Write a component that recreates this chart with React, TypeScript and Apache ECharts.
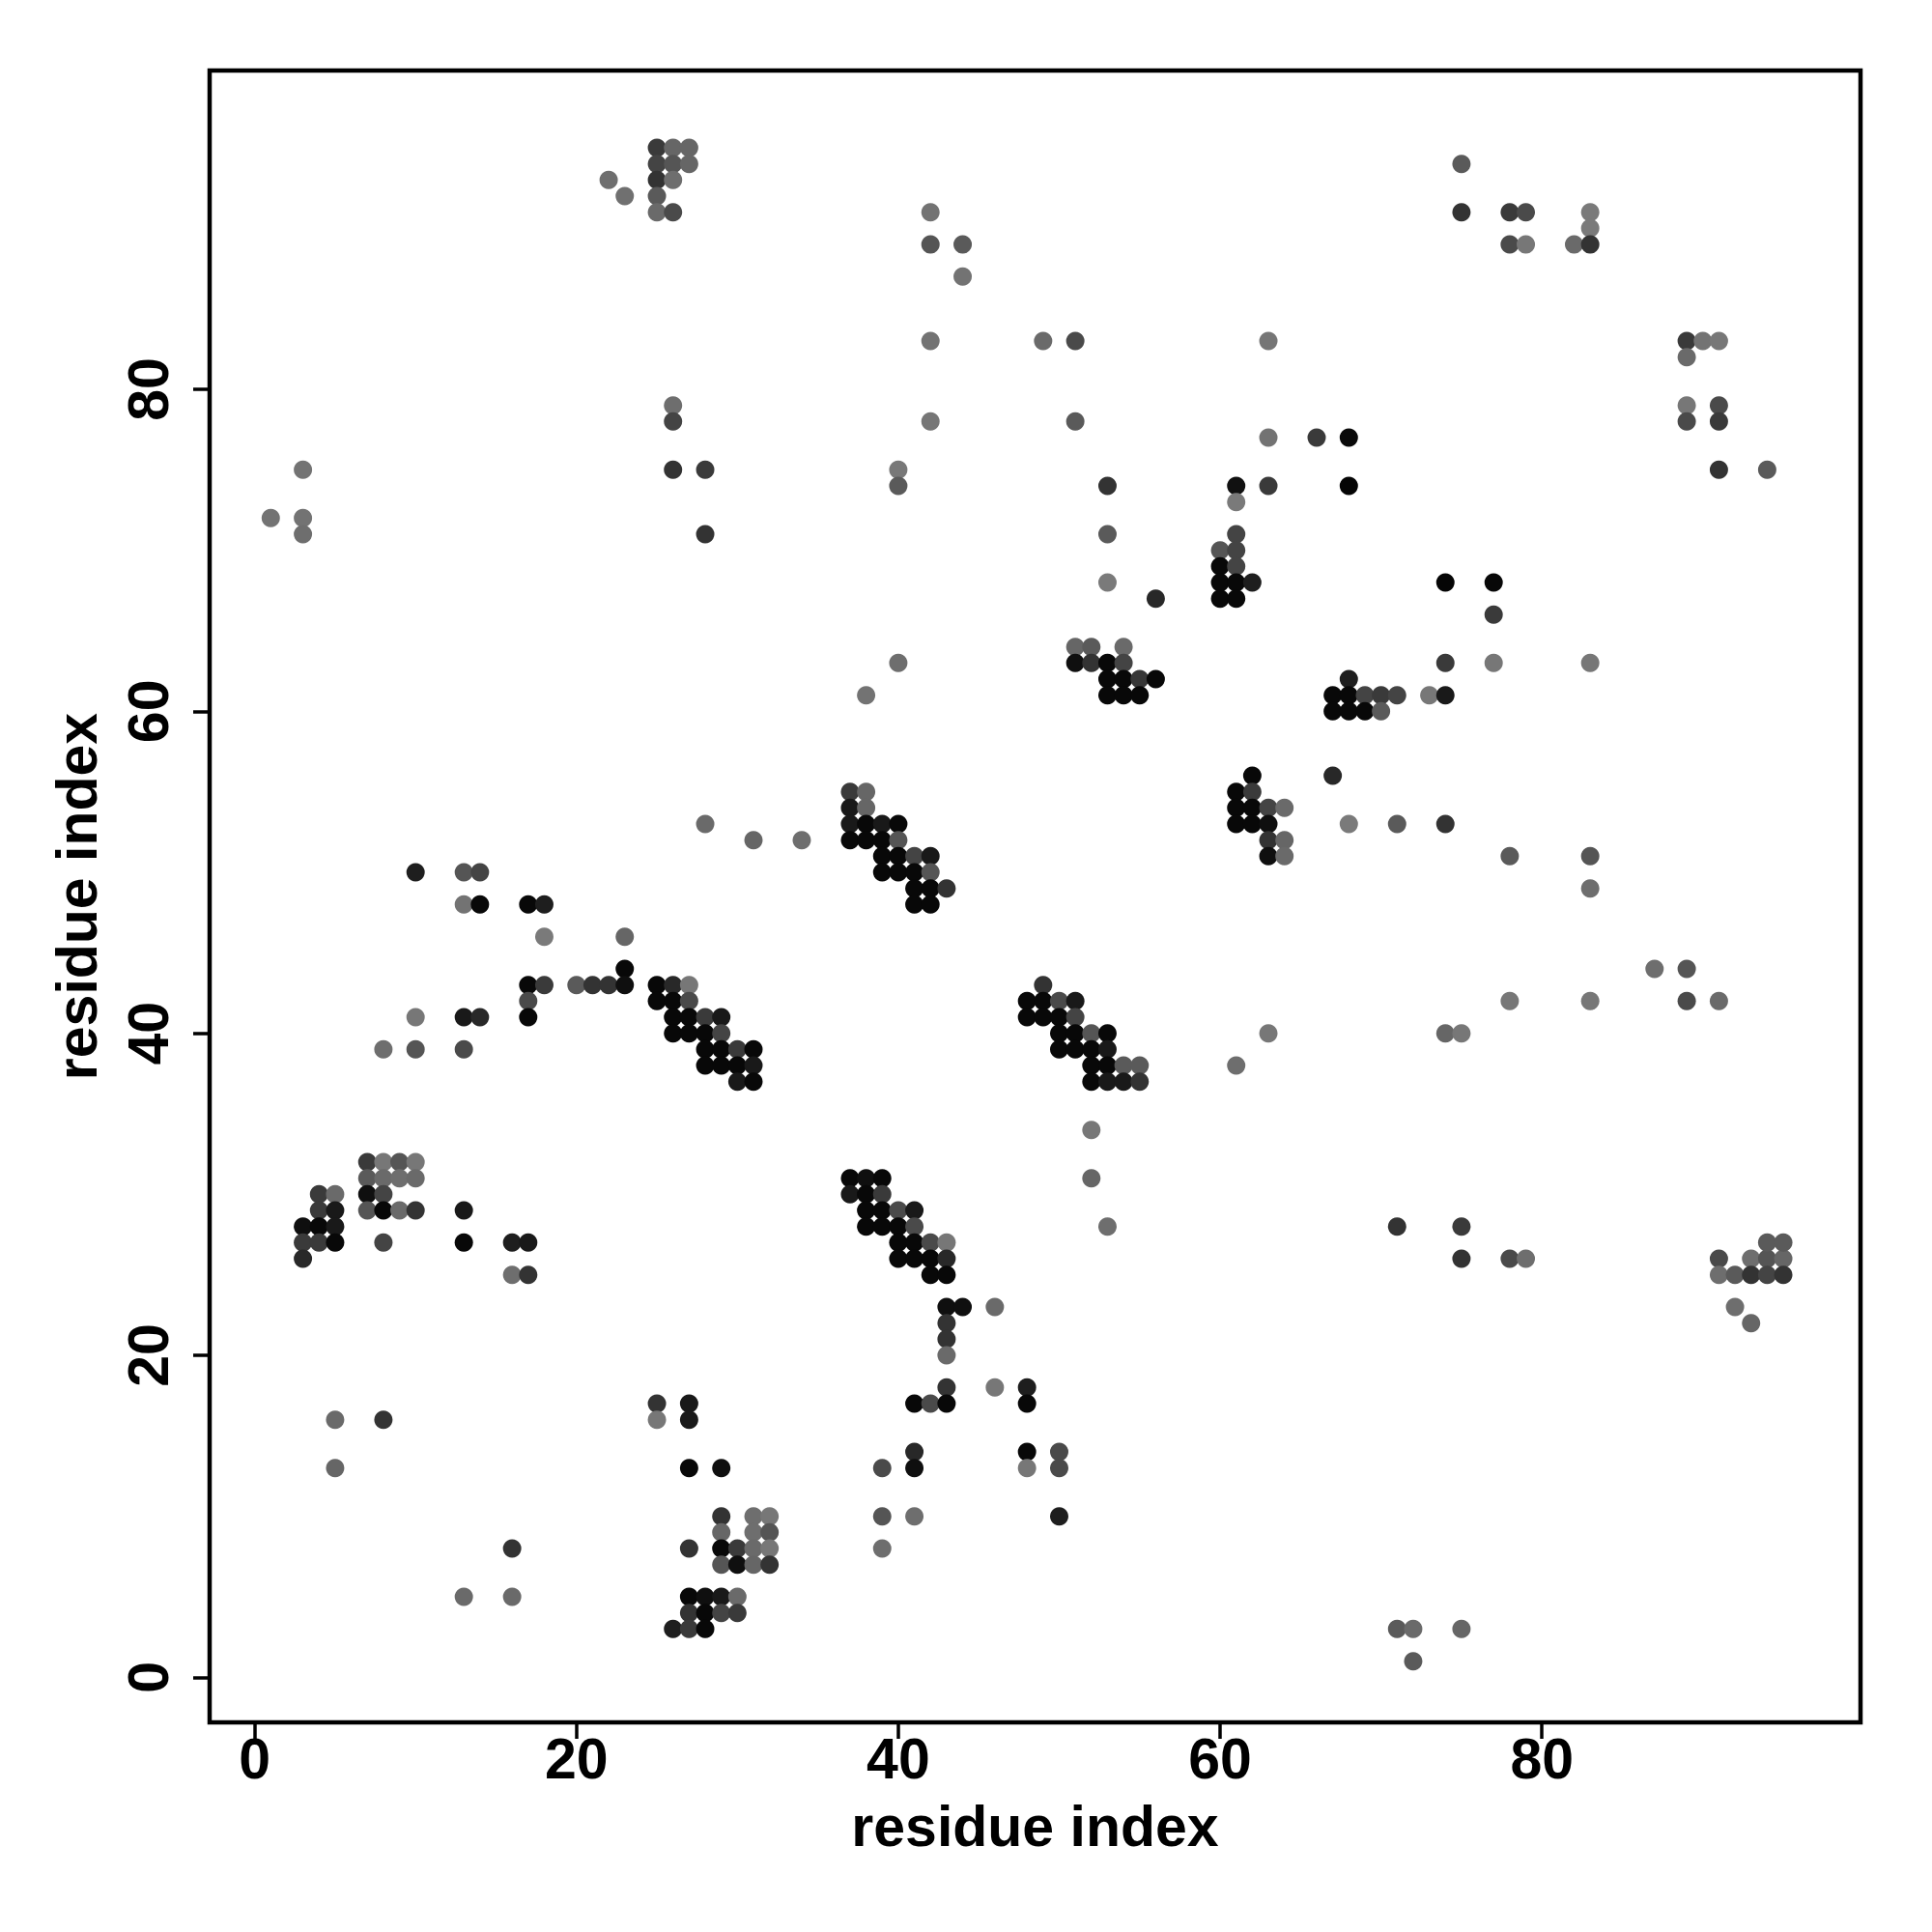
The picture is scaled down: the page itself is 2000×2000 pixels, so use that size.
import React, { useEffect, useRef } from "react";
import * as echarts from "echarts";

// [residue i, residue j, grey level 0-255]
const clusterTopLeft = [
  [25,95,58],[26,95,102],[27,95,102],[25,94,68],[26,94,85],[27,94,102],
  [22,93,110],[25,93,51],[26,93,110],[23,92,112],[25,92,90],[25,91,106],[26,91,74],
  [26,79,110],[26,78,68],[3,75,115],[26,75,51],[28,75,58],
  [1,72,115],[3,72,115],[3,71,110],[28,71,51],
];
const clusterTopMid = [
  [42,91,115],[42,89,85],[44,89,90],[44,87,115],[42,83,115],[49,83,106],[51,83,74],[63,83,118],
  [42,78,118],[51,78,90],[63,77,115],[66,77,58],[68,77,10],
  [40,75,120],[40,74,90],[53,74,51],[61,74,17],[63,74,58],[68,74,5],
];
const clusterTopRight = [
  [75,94,90],[75,91,51],[78,91,58],[79,91,74],[83,91,122],[83,90,122],[78,89,74],[79,89,119],[82,89,106],[83,89,51],
  [89,83,58],[90,83,115],[91,83,119],[89,82,106],[89,79,119],[91,79,74],[89,78,74],[91,78,58],[91,75,51],[94,75,90],
];
const clusterUpperLeft = [
  [28,53,106],[31,52,102],[34,52,110],[10,50,30],[13,50,85],[14,50,68],[13,48,115],[14,48,8],[17,48,8],[18,48,30],
  [18,46,122],[23,46,102],[23,44,8],[17,43,8],[18,43,58],[20,43,90],[21,43,51],[22,43,51],[23,43,15],[17,42,74],[17,41,8],
  [10,41,119],[13,41,25],[14,41,40],[8,39,110],[10,39,85],[13,39,74],
];
const clusterUpperMid = [
  [61,73,122],[53,71,90],[61,71,68],[60,70,85],[61,70,68],[60,69,8],[61,69,68],[60,68,8],[61,68,8],[62,68,30],
  [60,67,8],[61,67,8],[53,68,122],[56,67,40],
  [51,64,102],[52,64,90],[54,64,106],[51,63,15],[52,63,51],[53,63,8],[54,63,68],[53,62,8],[54,62,8],[55,62,55],[56,62,8],
  [53,61,8],[54,61,8],[55,61,8],[40,63,110],[38,61,115],
  [37,55,58],[38,55,102],[37,54,25],[38,54,102],[37,53,25],[38,53,8],[39,53,25],[40,53,8],[37,52,8],[38,52,8],[39,52,8],[40,52,85],
  [39,51,8],[40,51,8],[41,51,68],[42,51,25],[39,50,8],[40,50,8],[41,50,8],[42,50,85],[41,49,8],[42,49,8],[43,49,51],[41,48,8],[42,48,8],
  [62,56,8],[61,55,8],[62,55,58],[61,54,8],[62,54,8],[63,54,68],[64,54,106],[61,53,8],[62,53,8],[63,53,15],[63,52,51],[64,52,102],[63,51,15],[64,51,106],
];
const clusterUpperRight = [
  [74,68,5],[77,68,8],[77,66,58],[74,63,58],[77,63,119],[83,63,119],[68,62,30],[67,61,8],[68,61,8],[69,61,68],[70,61,58],[71,61,68],
  [73,61,119],[74,61,25],[67,60,8],[68,60,8],[69,60,8],[70,60,90],[67,56,40],[68,53,122],[71,53,90],[74,53,51],[78,51,90],[83,51,85],[83,49,110],
];
const clusterMidLeft = [
  [25,43,8],[26,43,40],[27,43,119],[25,42,8],[26,42,8],[27,42,74],[26,41,8],[27,41,8],[28,41,58],[29,41,25],
  [26,40,8],[27,40,8],[28,40,8],[29,40,68],[28,39,8],[29,39,8],[30,39,58],[31,39,8],[28,38,8],[29,38,8],[30,38,8],[31,38,25],[30,37,25],[31,37,8],
  [7,32,58],[8,32,119],[9,32,85],[10,32,119],[7,31,90],[8,31,106],[9,31,110],[10,31,106],[7,30,15],[8,30,68],[4,30,58],[5,30,106],
  [4,29,58],[5,29,25],[7,29,85],[8,29,8],[9,29,106],[10,29,51],[13,29,25],
  [3,28,15],[4,28,8],[5,28,25],[3,27,58],[4,27,58],[5,27,8],[8,27,68],[13,27,8],[16,27,30],[17,27,25],[3,26,40],[16,25,110],[17,25,51],
];
const clusterMidCentre = [
  [49,43,51],[48,42,8],[49,42,8],[50,42,74],[51,42,25],[48,41,8],[49,41,8],[50,41,8],[51,41,68],[50,40,8],[51,40,8],[52,40,85],[53,40,8],
  [50,39,8],[51,39,8],[52,39,8],[53,39,25],[52,38,8],[53,38,8],[54,38,90],[55,38,90],[52,37,8],[53,37,25],[54,37,25],[55,37,51],
  [63,40,119],[61,38,110],[52,34,119],[52,31,102],[53,28,110],
  [37,31,8],[38,31,15],[39,31,8],[37,30,25],[38,30,8],[39,30,58],[38,29,8],[39,29,8],[40,29,74],[41,29,25],[38,28,8],[39,28,8],[40,28,8],[41,28,74],
  [40,27,8],[41,27,8],[42,27,74],[43,27,119],[40,26,8],[41,26,8],[42,26,8],[43,26,40],[42,25,8],[43,25,8],
  [43,23,15],[44,23,15],[46,23,106],[43,22,51],
];
const clusterMidRight = [
  [87,44,110],[89,44,85],[78,42,119],[83,42,119],[89,42,74],[91,42,106],[74,40,102],[75,40,119],
  [71,28,51],[75,28,58],[75,26,51],[78,26,74],[79,26,110],[91,26,74],[93,26,110],[94,26,85],[95,26,102],[94,27,90],[95,27,90],
  [91,25,110],[92,25,90],[93,25,51],[94,25,68],[95,25,51],[92,23,110],[93,22,102],
];
const clusterBottom = [
  [71,3,90],[72,3,106],[75,3,102],[72,1,90],
  [5,16,106],[8,16,51],[5,13,102],[25,17,51],[27,17,25],[25,16,119],[27,16,25],[27,13,8],[29,13,15],
  [29,10,51],[31,10,110],[32,10,119],[29,9,102],[31,9,110],[32,9,85],[16,8,51],[27,8,51],[29,8,8],[30,8,58],[31,8,106],[32,8,119],
  [29,7,85],[30,7,15],[31,7,102],[32,7,51],
  [13,5,106],[16,5,106],[27,5,8],[28,5,15],[29,5,25],[30,5,106],[27,4,51],[28,4,8],[29,4,68],[30,4,58],[26,3,30],[27,3,58],[28,3,8],
  [43,21,51],[43,20,106],[43,18,51],[46,18,119],[48,18,30],[41,17,8],[42,17,74],[43,17,8],[48,17,8],[41,14,40],[48,14,8],[50,14,74],
  [39,13,74],[41,13,15],[48,13,119],[50,13,74],[39,10,85],[41,10,110],[50,10,30],[39,8,110],
];

const tickValues = [0, 20, 40, 60, 80];
const axisTitle = "residue index";

export default function App() {
  const ref = useRef<HTMLDivElement>(null);
  useEffect(() => {
    if (!ref.current) return;
    const chart = echarts.init(ref.current, undefined, { renderer: "svg" });
    const all = [
      ...clusterTopLeft, ...clusterTopMid, ...clusterTopRight, ...clusterUpperLeft,
      ...clusterUpperMid, ...clusterUpperRight, ...clusterMidLeft, ...clusterMidCentre,
      ...clusterMidRight, ...clusterBottom,
    ];
    const data = all.map((p) => ({
      value: [p[0], p[1]],
      itemStyle: { color: `rgb(${p[2]},${p[2]},${p[2]})`, opacity: 1 },
    }));
    const font = {
      fontFamily: "Liberation Sans",
      fontWeight: "bold" as const,
      fontSize: 59,
      color: "#000",
    };
    const tick = {
      show: true,
      length: 17,
      customValues: tickValues,
      lineStyle: { color: "#000", width: 3.5 },
    };
    chart.setOption({
      animation: false,
      backgroundColor: "#fff",
      grid: {
        left: 217,
        top: 73,
        width: 1709,
        height: 1710,
        show: true,
        borderColor: "#000",
        borderWidth: 4.5,
        backgroundColor: "transparent",
        containLabel: false,
      },
      xAxis: {
        type: "value",
        min: -2.8,
        max: 99.8,
        splitLine: { show: false },
        axisLine: { show: false, onZero: false },
        axisTick: tick,
        axisLabel: { ...font, customValues: tickValues, margin: 8 },
        name: axisTitle,
        nameLocation: "middle",
        nameGap: 78,
        nameTextStyle: font,
      },
      yAxis: {
        type: "value",
        min: -2.8,
        max: 99.8,
        splitLine: { show: false },
        axisLine: { show: false, onZero: false },
        axisTick: tick,
        axisLabel: { ...font, customValues: tickValues, rotate: 90, margin: 34 },
        name: axisTitle,
        nameLocation: "middle",
        nameGap: 108,
        nameTextStyle: font,
      },
      series: [
        {
          type: "scatter",
          symbol: "circle",
          symbolSize: 19,
          itemStyle: { opacity: 1 },
          data,
        },
      ],
    });
    return () => chart.dispose();
  }, []);
  return (
    <div
      ref={ref}
      style={{ position: "absolute", left: 0, top: 0, width: 2000, height: 2000 }}
    />
  );
}
